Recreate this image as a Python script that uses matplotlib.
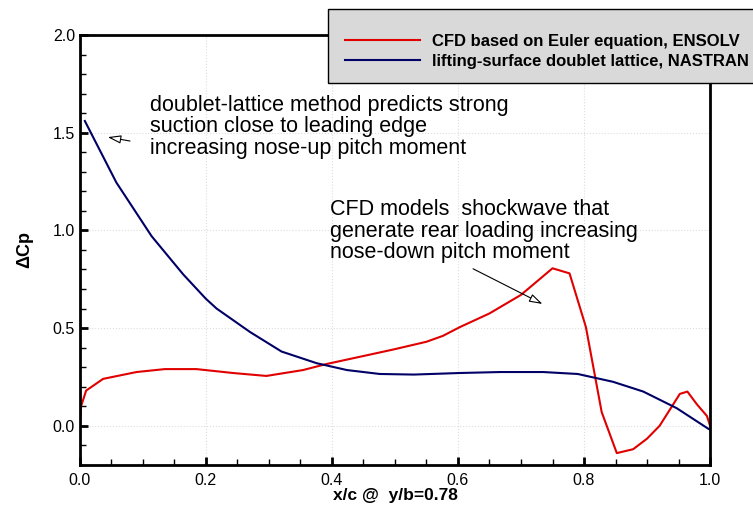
import numpy as np
import matplotlib
matplotlib.use("Agg")
import matplotlib.pyplot as plt
from matplotlib.patches import Rectangle
from matplotlib.ticker import MultipleLocator

plt.rcParams["font.family"] = ["Liberation Sans", "DejaVu Sans"]

# CFD (Euler, ENSOLV)
cfd_x = [0.0, 0.002, 0.01, 0.037, 0.09, 0.135, 0.185, 0.243, 0.296, 0.354, 0.39,
         0.44, 0.497, 0.55, 0.576, 0.603, 0.65, 0.70, 0.75, 0.777, 0.803, 0.828,
         0.852, 0.878, 0.90, 0.92, 0.952, 0.964, 0.979, 0.995, 1.0]
cfd_y = [-0.015, 0.10, 0.18, 0.24, 0.275, 0.29, 0.29, 0.27, 0.255, 0.285, 0.315,
         0.35, 0.39, 0.43, 0.46, 0.505, 0.575, 0.67, 0.806, 0.78, 0.505, 0.07,
         -0.14, -0.12, -0.066, 0.0, 0.163, 0.175, 0.11, 0.05, 0.0]

# doublet lattice (NASTRAN)
dl_x = [0.008, 0.058, 0.114, 0.164, 0.2, 0.217, 0.27, 0.32, 0.376, 0.424, 0.476,
        0.53, 0.603, 0.667, 0.735, 0.79, 0.846, 0.894, 0.947, 0.997, 1.0]
dl_y = [1.56, 1.245, 0.97, 0.775, 0.65, 0.6, 0.48, 0.38, 0.32, 0.285, 0.265,
        0.262, 0.27, 0.275, 0.275, 0.265, 0.225, 0.175, 0.09, -0.015, -0.02]

W, H = 753, 508
fig = plt.figure(figsize=(7.53, 5.08), dpi=100)
ax = fig.add_axes([0.106, 0.085, 0.837, 0.846])

l1, = ax.plot(cfd_x, cfd_y, color="#e00000", lw=1.5,
              label="CFD based on Euler equation, ENSOLV")
l2, = ax.plot(dl_x, dl_y, color="#000066", lw=1.5,
              label="lifting-surface doublet lattice, NASTRAN")

ax.set_xlim(0, 1)
ax.set_ylim(-0.2, 2.0)
ax.xaxis.set_major_locator(MultipleLocator(0.2))
ax.xaxis.set_minor_locator(MultipleLocator(0.05))
ax.yaxis.set_major_locator(MultipleLocator(0.5))
ax.yaxis.set_minor_locator(MultipleLocator(0.1))
ax.tick_params(which="major", direction="in", length=6, width=2, labelsize=11.5)
ax.tick_params(which="minor", direction="in", length=4, width=1)
ax.tick_params(axis="x", pad=6)
for s in ax.spines.values():
    s.set_linewidth(2)
ax.grid(True, which="major", color="#dddddd", linestyle=":", linewidth=0.8)

ax.set_xlabel("x/c @  y/b=0.78", fontsize=12.5, fontweight="bold", labelpad=0)
ax.set_ylabel("ΔCp", fontsize=13, fontweight="bold", labelpad=14)

ax.annotate("", xy=(0.04, 1.48), xytext=(0.084, 1.455),
            arrowprops=dict(arrowstyle="-|>,head_length=0.8,head_width=0.25",
                            fc="white", ec="black", lw=0.8))
ax.text(0.111, 1.695, "doublet-lattice method predicts strong\nsuction close to leading edge\n"
        "increasing nose-up pitch moment", fontsize=15.5, va="top", linespacing=1.03)

ax.annotate("", xy=(0.738, 0.617), xytext=(0.62, 0.81),
            arrowprops=dict(arrowstyle="-|>,head_length=0.8,head_width=0.25",
                            fc="white", ec="black", lw=0.8))
ax.text(0.397, 1.16, "CFD models  shockwave that\ngenerate rear loading increasing\n"
        "nose-down pitch moment", fontsize=15.5, va="top", linespacing=1.03)

# legend box runs off the right edge like in the original
box = Rectangle((328 / W, 1 - 83 / H), (770 - 328) / W, 74 / H,
                transform=fig.transFigure, facecolor="#d9d9d9",
                edgecolor="black", linewidth=1, zorder=3)
fig.patches.append(box)

leg = fig.legend(handles=[l1, l2], loc="upper left",
                 bbox_to_anchor=(345 / W, 1 - 34 / H),
                 prop=dict(weight="bold", size=12), frameon=False,
                 borderpad=0, handlelength=4.5, labelspacing=0.3,
                 handletextpad=0.75, borderaxespad=0)
leg.set_zorder(5)

fig.savefig("out.png", dpi=100)
